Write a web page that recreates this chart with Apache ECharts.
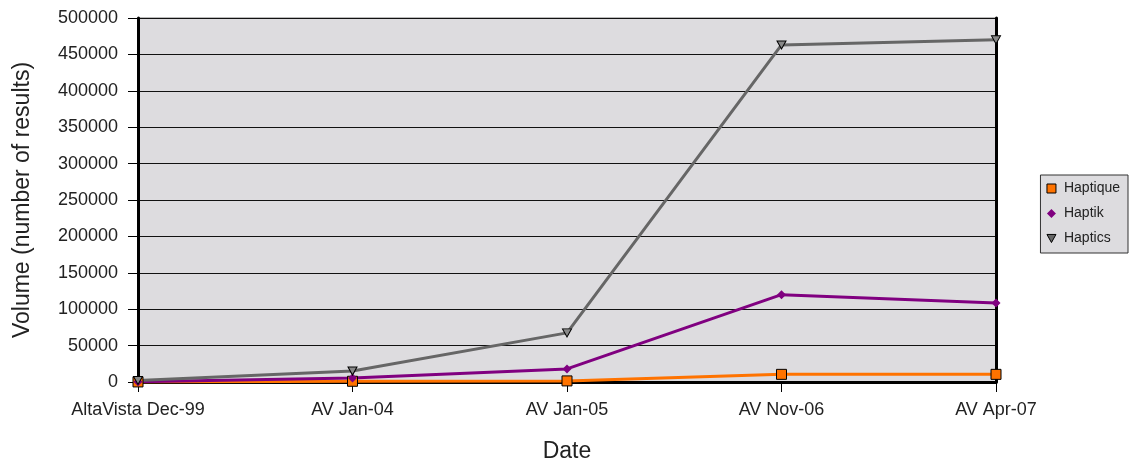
<!DOCTYPE html>
<html><head><meta charset="utf-8">
<script src="https://cdn.jsdelivr.net/npm/echarts@6/dist/echarts.min.js"></script>
<style>html,body{margin:0;padding:0;background:#fff}#c{width:1131px;height:463px}</style>
</head><body><div id="c"></div>
<script>
const categories = ['AltaVista Dec-99', 'AV Jan-04', 'AV Jan-05', 'AV Nov-06', 'AV Apr-07'];
const haptique = [100, 1000, 1500, 10500, 10500];
const haptik = [500, 5500, 18000, 120000, 108500];
const haptics = [2000, 15000, 67500, 463000, 470000];
const yTicks = {min: 0, max: 500000, interval: 50000};

const FONT = '"Liberation Sans", Arial, sans-serif';
const chart = echarts.init(document.getElementById('c'));
const triDown = 'path://M0,0 L10,0 L5,9 Z';
chart.setOption({
  animation: false,
  textStyle: {fontFamily: FONT},
  grid: {left: 138, right: 135, top: 18, bottom: 81, outerBoundsMode: 'none', containLabel: false,
         show: true, backgroundColor: '#dddcdf', borderColor: '#777', borderWidth: 1},
  legend: {
    orient: 'vertical', right: 3, top: 175,
    backgroundColor: '#dddcdf', borderColor: '#333', borderWidth: 1,
    padding: [6, 8, 7, 6], itemGap: 10, itemWidth: 9, itemHeight: 9,
    textStyle: {fontSize: 14, lineHeight: 15, color: '#222', fontFamily: FONT, padding: [0, 0, 0, 3]},
    data: [
      {name: 'Haptique', icon: 'rect', itemStyle: {color: '#ff7300', borderColor: '#000', borderWidth: 1}},
      {name: 'Haptik', icon: 'diamond', itemStyle: {color: '#800080', borderWidth: 0}},
      {name: 'Haptics', icon: triDown, itemStyle: {color: '#666', borderColor: '#000', borderWidth: 1}}
    ]
  },
  xAxis: {
    type: 'category', data: categories, boundaryGap: false,
    name: 'Date', nameLocation: 'middle', nameGap: 58,
    nameTextStyle: {fontSize: 23, color: '#222', fontFamily: FONT},
    axisLine: {lineStyle: {color: '#000', width: 3}},
    axisTick: {length: 10, lineStyle: {color: '#000', width: 1}},
    axisLabel: {fontSize: 18, color: '#222', margin: 19, fontFamily: FONT},
    splitLine: {show: false}
  },
  yAxis: [{
    type: 'value', min: yTicks.min, max: yTicks.max, interval: yTicks.interval,
    name: 'Volume (number of results)', nameLocation: 'middle', nameGap: 104,
    nameTextStyle: {fontSize: 23, color: '#222', fontFamily: FONT},
    axisLine: {show: true, lineStyle: {color: '#000', width: 3}},
    axisTick: {show: true, length: 10, lineStyle: {color: '#000', width: 1}},
    axisLabel: {fontSize: 18, color: '#222', margin: 20, fontFamily: FONT, formatter: v => String(v)},
    splitLine: {lineStyle: {color: '#111', width: 1}}
  }, {
    type: 'value', position: 'right', min: yTicks.min, max: yTicks.max, interval: yTicks.interval,
    axisLine: {show: true, lineStyle: {color: '#000', width: 3}},
    axisTick: {show: false}, axisLabel: {show: false}, splitLine: {show: false}
  }],
  series: [
    {name: 'Haptique', type: 'line', data: haptique, symbol: 'rect', symbolSize: 10,
     lineStyle: {color: '#ff7300', width: 3}, itemStyle: {color: '#ff7300', borderColor: '#000', borderWidth: 1}},
    {name: 'Haptik', type: 'line', data: haptik, symbol: 'diamond', symbolSize: 9,
     lineStyle: {color: '#800080', width: 3}, itemStyle: {color: '#800080', borderWidth: 0}},
    {name: 'Haptics', type: 'line', data: haptics, symbol: triDown, symbolSize: [9, 8],
     lineStyle: {color: '#666666', width: 3}, itemStyle: {color: '#888', borderColor: '#000', borderWidth: 1}}
  ]
});
</script></body></html>
